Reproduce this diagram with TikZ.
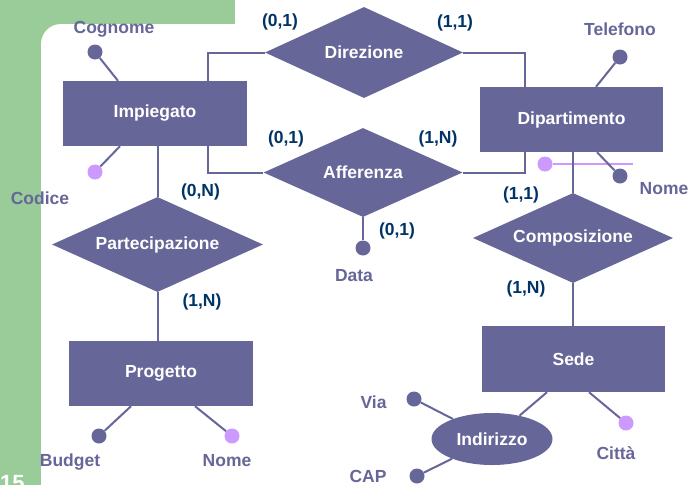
\documentclass[tikz,border=0pt]{standalone}
\usepackage{fontspec}
\setmainfont{Liberation Sans}
\usetikzlibrary{shapes.geometric}

\definecolor{erpurple}{HTML}{666699}
\definecolor{erlilac}{HTML}{CC99FF}
\definecolor{ercard}{HTML}{003366}
\definecolor{ergreen}{HTML}{99CC99}

\begin{document}
\begin{tikzpicture}[x=1pt, y=-1pt,
    every node/.style={font=\fontsize{17.5}{20}\selectfont\bfseries},
    entity/.style={fill=erpurple, text=white, minimum width=184pt, minimum height=65pt, inner sep=0pt},
    relation/.style={diamond, aspect=2.2, fill=erpurple, text=white, inner sep=0pt},
    attrdot/.style={circle, fill=erpurple, minimum size=15pt, inner sep=0pt},
    keydot/.style={attrdot, fill=erlilac},
    attrname/.style={text=erpurple, anchor=base, inner sep=0pt},
    card/.style={text=ercard, anchor=base, inner sep=0pt},
    link/.style={draw=erpurple, line width=2pt},
    idline/.style={draw=erlilac, line width=2pt},
]
  \useasboundingbox (0,0) rectangle (691,485);
  % slide background
  \fill[ergreen] (0,0) rectangle (691,485);
  \fill[white, rounded corners=20pt] (41,24) rectangle (720,520);
  \fill[white] (235,0) rectangle (691,24);
  \node[text=white, anchor=base west, inner sep=0pt, font=\fontsize{22}{24}\selectfont\bfseries] (pagenum) at (0,490) {15};

  % entities
  \node[entity] (impiegato) at (155,113.5) {Impiegato};
  \node[entity, minimum width=183pt] (dipartimento) at (571.5,119.5) {Dipartimento};
  \node[entity] (progetto) at (161,373.5) {Progetto};
  \node[entity, minimum width=183pt, minimum height=66pt] (sede) at (573.5,359) {Sede};

  % relationships
  \node[relation, minimum width=198pt, minimum height=91pt] (direzione) at (364,52.5) {Direzione};
  \node[relation, minimum width=199pt, minimum height=89pt] (afferenza) at (363,172.5) {Afferenza};
  \node[relation, minimum width=211pt, minimum height=95pt] (partecipazione) at (157.5,244.5) {Partecipazione};
  \node[relation, minimum width=200pt, minimum height=90pt] (composizione) at (573,238) {Composizione};
  \node[ellipse, fill=erpurple, text=white, minimum width=121pt, minimum height=52pt, inner sep=0pt] (indirizzo) at (492,439) {Indirizzo};

  % attributes
  \node[attrdot] (cognome) at (95,52) {};
  \node[keydot] (codice) at (95,172) {};
  \node[attrdot] (telefono) at (620,57) {};
  \node[attrdot] (nomedip) at (620,176) {};
  \node[keydot] (iddot) at (545,164) {};
  \coordinate (idend) at (633,164);
  \node[attrdot] (data) at (363,248) {};
  \node[attrdot] (budget) at (99,436) {};
  \node[keydot] (nomeprog) at (232,436) {};
  \node[keydot] (citta) at (626,423) {};
  \node[attrdot] (via) at (414,399) {};
  \node[attrdot] (cap) at (417,476) {};

  \draw[idline] (iddot) -- (idend);

  % connectors
  \draw[link] (direzione.west) -| ([xshift=53pt]impiegato.north);
  \draw[link] (direzione.east) -| ([xshift=-46.5pt]dipartimento.north);
  \draw[link] (afferenza.west) -| ([xshift=53pt]impiegato.south);
  \draw[link] (afferenza.east) -| ([xshift=-46.5pt]dipartimento.south);
  \draw[link] (partecipazione.north) -- (partecipazione.north |- impiegato.south);
  \draw[link] (partecipazione.south) -- (partecipazione.south |- progetto.north);
  \draw[link] (composizione.north) -- (composizione.north |- dipartimento.south);
  \draw[link] (composizione.south) -- (composizione.south |- sede.north);

  \draw[link] (cognome) -- ([xshift=-37pt]impiegato.north);
  \draw[link] (codice) -- ([xshift=-35pt]impiegato.south);
  \draw[link] (telefono) -- ([xshift=24.5pt]dipartimento.north);
  \draw[link] (nomedip) -- ([xshift=25.5pt]dipartimento.south);
  \draw[link] (afferenza.south) -- (data);
  \draw[link] (budget) -- ([xshift=-30pt]progetto.south);
  \draw[link] (nomeprog) -- ([xshift=34pt]progetto.south);
  \draw[link] ([xshift=-26.5pt]sede.south) -- (indirizzo);
  \draw[link] (citta) -- ([xshift=15.5pt]sede.south);
  \draw[link] (via) -- (indirizzo);
  \draw[link] (cap) -- (indirizzo);

  % attribute names
  \node[attrname] (lblcognome) at (114,33) {Cognome};
  \node[attrname] (lblcodice) at (40,204) {Codice};
  \node[attrname] (lbltelefono) at (620,35) {Telefono};
  \node[attrname] (lblnomedip) at (664,194) {Nome};
  \node[attrname] (lbldata) at (354,281) {Data};
  \node[attrname] (lblbudget) at (70,466) {Budget};
  \node[attrname] (lblnomeprog) at (227,466) {Nome};
  \node[attrname] (lblvia) at (373.5,408) {Via};
  \node[attrname] (lblcap) at (368,482) {CAP};
  \node[attrname] (lblcitta) at (616,459) {Città};

  % cardinalities
  \node[card] (cdirimp) at (280,26) {(0,1)};
  \node[card] (cdirdip) at (455,27) {(1,1)};
  \node[card] (caffimp) at (286,143) {(0,1)};
  \node[card] (caffdip) at (438,143) {(1,N)};
  \node[card] (caffdata) at (397,235) {(0,1)};
  \node[card] (cparimp) at (200.5,196) {(0,N)};
  \node[card] (cparpro) at (202,306) {(1,N)};
  \node[card] (ccomdip) at (521,199) {(1,1)};
  \node[card] (ccomsede) at (526,293) {(1,N)};
\end{tikzpicture}
\end{document}
